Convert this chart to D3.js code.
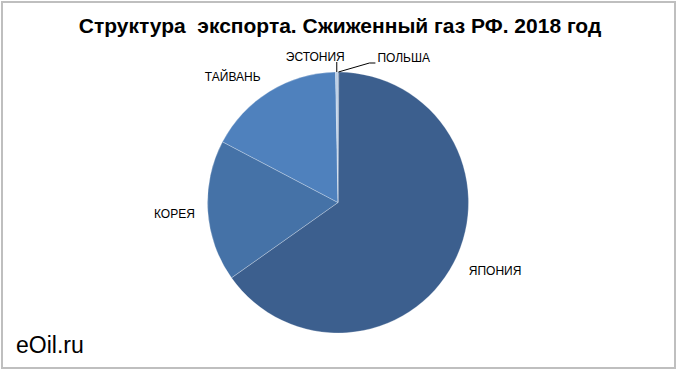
<!DOCTYPE html>
<html>
<head>
<meta charset="utf-8">
<script src="https://cdn.jsdelivr.net/npm/d3@7"></script>
<style>
  body { margin: 0; background: #fff; }
  text { font-family: "Liberation Sans", Arial, sans-serif; }
</style>
</head>
<body>
<div id="chart"></div>
<script>
// export structure, LNG, Russia 2018 (share, %)
const countries = ["ПОЛЬША", "ЯПОНИЯ", "КОРЕЯ", "ТАЙВАНЬ", "ЭСТОНИЯ"];
const shares = [0.1, 65.1, 17.5, 17.0, 0.3];
const colors = ["#2c4d7a", "#3c5f8e", "#4572a7", "#4f81bd", "#b9cde5"];

const width = 680, height = 375;
const cx = 338, cy = 202.5, radius = 130.5;

const svg = d3.select("#chart").append("svg")
  .attr("width", width)
  .attr("height", height);

// frame
svg.append("rect")
  .attr("x", 2).attr("y", 2)
  .attr("width", 673).attr("height", 366)
  .attr("fill", "#fff")
  .attr("stroke", "#bfbfbf")
  .attr("stroke-width", 2);

svg.append("text")
  .attr("x", 340).attr("y", 33)
  .attr("text-anchor", "middle")
  .style("white-space", "pre")
  .attr("font-size", 21)
  .attr("font-weight", "bold")
  .text("Структура  экспорта. Сжиженный газ РФ. 2018 год");

svg.append("text")
  .attr("x", 16).attr("y", 353)
  .attr("font-size", 23)
  .text("eOil.ru");

const data = countries.map((c, i) => ({ name: c, value: shares[i], color: colors[i] }));

const pie = d3.pie().sort(null).value(d => d.value).startAngle(0);
const arcs = pie(data);
const arc = d3.arc().innerRadius(0).outerRadius(radius);

const g = svg.append("g").attr("transform", `translate(${cx},${cy})`);

g.selectAll("path")
  .data(arcs)
  .enter()
  .append("path")
    .attr("d", arc)
    .attr("fill", d => d.data.color)
    .attr("stroke", "rgba(255,255,255,0.35)")
    .attr("stroke-width", 0.75);

const mid = d => (d.startAngle + d.endAngle) / 2;
const pt = (a, r) => [Math.sin(a) * r, -Math.cos(a) * r];

// large slices: label outside at fixed radius
const big = arcs.filter(d => d.data.value > 5);
g.selectAll("text.lbl")
  .data(big)
  .enter()
  .append("text")
    .attr("class", "lbl")
    .attr("x", d => pt(mid(d), radius * 1.13)[0] + (mid(d) > 4 && mid(d) < 5 ? 4 : 0))
    .attr("y", d => pt(mid(d), radius * 1.13)[1] + (mid(d) > 4 && mid(d) < 5 ? 2 : 0))
    .attr("dy", "0.35em")
    .attr("text-anchor", d => mid(d) < Math.PI ? "start" : "end")
    .attr("font-size", 12)
    .text(d => d.data.name);

// tiny slices: leader lines
const small = arcs.filter(d => d.data.value <= 5);
small.forEach(d => {
  const a = mid(d);
  const p0 = pt(a, radius);
  if (a < Math.PI) {
    const p1 = [p0[0] + 31, p0[1] - 9];
    const p2 = [p1[0] + 6, p1[1]];
    g.append("polyline")
      .attr("points", [p0, p1, p2].map(p => p.join(",")).join(" "))
      .attr("fill", "none").attr("stroke", "#000").attr("stroke-width", 1);
    g.append("text")
      .attr("x", p2[0] + 2).attr("y", p2[1] - 1)
      .attr("font-size", 12)
      .text(d.data.name);
  } else {
    const p1 = [p0[0], p0[1] - 10];
    g.append("line")
      .attr("x1", p0[0]).attr("y1", p0[1])
      .attr("x2", p1[0]).attr("y2", p1[1])
      .attr("stroke", "#000").attr("stroke-width", 1);
    g.append("text")
      .attr("x", p1[0] + 8).attr("y", p1[1] - 1)
      .attr("text-anchor", "end")
      .attr("font-size", 12)
      .text(d.data.name);
  }
});
</script>
</body>
</html>
